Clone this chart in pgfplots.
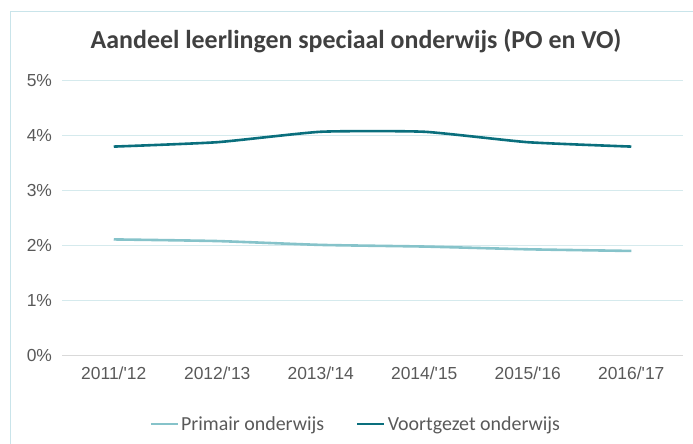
\documentclass[border=0pt]{standalone}
\usepackage{pgfplots}
\pgfplotsset{compat=1.18}
\usepackage{fontspec}
\setmainfont{Carlito}
\newfontfamily\tickfont{Liberation Sans}
\definecolor{po}{HTML}{86C3CA}
\definecolor{vo}{HTML}{0A6F7D}
\definecolor{gridc}{HTML}{D5EAED}
\definecolor{txt}{HTML}{595959}
\definecolor{ttl}{HTML}{404040}
\definecolor{framec}{HTML}{C9E4EA}
\definecolor{basec}{HTML}{D9D9D9}
\begin{document}
\begin{tikzpicture}[x=1bp,y=1bp]
\draw[framec, line width=1bp] (10,0) -- (10,432) -- (693,432);
\node[anchor=base, text=ttl, inner sep=0pt] at (356,395) {\fontsize{26}{30}\selectfont\bfseries Aandeel leerlingen speciaal onderwijs (PO en VO)};
\begin{axis}[
  at={(62bp,88.7bp)}, anchor=south west,
  scale only axis, width=621bp, height=274.6bp,
  xmin=-0.5, xmax=5.5, ymin=0, ymax=5,
  xtick={0,1,2,3,4,5},
  xticklabels={2011/'12,2012/'13,2013/'14,2014/'15,2015/'16,2016/'17},
  ytick={0,1,2,3,4,5},
  yticklabels={0\%,1\%,2\%,3\%,4\%,5\%},
  axis x line*=bottom, axis y line*=left,
  x axis line style={draw=basec, line width=1bp, -},
  y axis line style={draw=none},
  major tick length=0pt,
  ymajorgrids, grid style={gridc, line width=1bp},
  tick label style={font=\tickfont\fontsize{17.5}{20}\selectfont, text=txt},
  xticklabel style={yshift=-8bp},
  yticklabel style={xshift=-6.5bp},
  legend style={at={(0.473,-0.25)}, anchor=center, draw=none, fill=none,
    legend columns=2, font=\fontsize{20}{24}\selectfont, text=txt,
    /tikz/every even column/.append style={column sep=30bp}},
  legend image code/.code={\draw[#1] (0bp,0bp) -- (27bp,0bp);},
  clip=false,
]
\addplot[po, line width=2.6bp, smooth, tension=0.3] coordinates {(0,2.11) (1,2.08) (2,2.01) (3,1.98) (4,1.93) (5,1.90)};
\addlegendentry{Primair onderwijs}
\addplot[vo, line width=2.6bp, smooth, tension=0.3] coordinates {(0,3.80) (1,3.88) (2,4.07) (3,4.07) (4,3.88) (5,3.80)};
\addlegendentry{Voortgezet onderwijs}
\end{axis}
\pgfresetboundingbox
\useasboundingbox (0,0) rectangle (693,444);
\end{tikzpicture}
\end{document}
